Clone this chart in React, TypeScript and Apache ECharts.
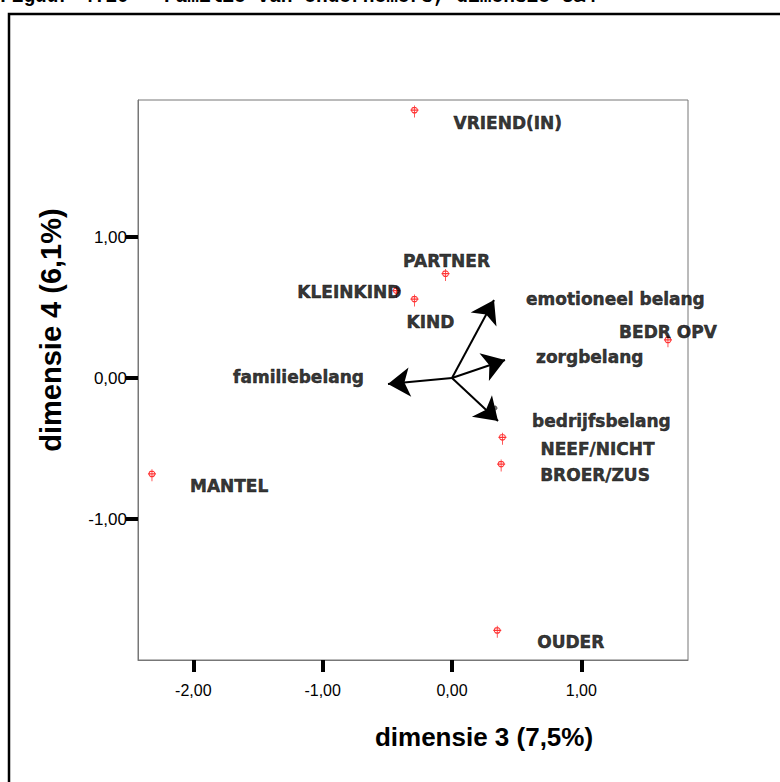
import React, { useEffect, useRef } from 'react';
import * as echarts from 'echarts';

const figureTitle = 'Figuur 4.10 – Familie van ondernemers, dimensie 3&4';
const xAxisTitle = 'dimensie 3 (7,5%)';
const yAxisTitle = 'dimensie 4 (6,1%)';

const xTicks = [-2, -1, 0, 1];
const yTicks = [-1, 0, 1];

const pointNames = ['VRIEND(IN)', 'PARTNER', 'KLEINKIND', 'KIND', 'BEDR OPV', 'NEEF/NICHT', 'BROER/ZUS', 'MANTEL', 'OUDER'];
const pointX = [-0.29, -0.05, -0.43, -0.29, 1.67, 0.39, 0.38, -2.32, 0.35];
const pointY = [1.89, 0.73, 0.61, 0.55, 0.26, -0.43, -0.62, -0.69, -1.8];

const vectorNames = ['emotioneel belang', 'zorgbelang', 'familiebelang', 'bedrijfsbelang'];
const vectorX = [0.325, 0.41, -0.495, 0.356];
const vectorY = [0.553, 0.128, -0.043, -0.305];

const extraMarkX = [0.333];
const extraMarkY = [-0.22];

const labelLayout: Record<string, { align: string; offset: number[] }> = {
  'VRIEND(IN)': { align: 'left', offset: [39, 11] },
  PARTNER: { align: 'center', offset: [1, -14] },
  KLEINKIND: { align: 'right', offset: [5, 0] },
  KIND: { align: 'center', offset: [16, 22] },
  'BEDR OPV': { align: 'center', offset: [0, -9] },
  'NEEF/NICHT': { align: 'left', offset: [38, 10] },
  'BROER/ZUS': { align: 'left', offset: [39, 10] },
  MANTEL: { align: 'left', offset: [38, 11] },
  OUDER: { align: 'left', offset: [40, 10] },
  'emotioneel belang': { align: 'left', offset: [32, -1] },
  zorgbelang: { align: 'left', offset: [31, -3] },
  familiebelang: { align: 'right', offset: [-24, -7] },
  bedrijfsbelang: { align: 'left', offset: [34, 0] },
};

const markerPath =
  'path://M5 0 L5 13 M1 5 L9 5 M2 5 A3 3 0 1 1 8 5 A3 3 0 1 1 2 5 Z';

const labelFont = {
  fontFamily: 'DejaVu Sans',
  fontWeight: 'bold' as const,
  fontSize: 17,
  color: '#000',
  textBorderWidth: 0.5,
  textBorderColor: '#000',
};

const fmt = (v: number) => v.toFixed(2).replace('.', ',');

export default function App() {
  const ref = useRef<HTMLDivElement>(null);
  useEffect(() => {
    const chart = echarts.init(ref.current!, null, { renderer: 'svg' });
    const mkLabel = (n: string) => ({
      show: true,
      position: 'inside',
      formatter: '{b}',
      verticalAlign: 'middle',
      align: labelLayout[n].align,
      offset: labelLayout[n].offset,
      ...labelFont,
    });
    const pointData = pointNames.map((n, i) => ({
      name: n,
      value: [pointX[i], pointY[i]],
      label: mkLabel(n),
    }));
    const vectorLabelData = vectorNames.map((n, i) => ({
      name: n,
      value: [vectorX[i], vectorY[i]],
      label: mkLabel(n),
    }));
    const lineData = vectorNames.map((n, i) => ({
      name: n,
      coords: [
        [0, 0],
        [vectorX[i], vectorY[i]],
      ],
    }));
    chart.setOption({
      animation: false,
      backgroundColor: '#fff',
      grid: {
        left: 138,
        right: 92,
        top: 100,
        bottom: 122,
        show: true,
        borderColor: '#777',
        borderWidth: 1,
        containLabel: false,
      },
      xAxis: {
        type: 'value',
        min: -2.428,
        max: 1.825,
        splitLine: { show: false },
        axisLine: { show: true, onZero: false, lineStyle: { color: '#777', width: 1 } },
        axisTick: {
          show: true,
          customValues: xTicks,
          length: 12,
          lineStyle: { color: '#000', width: 4 },
        },
        axisLabel: {
          customValues: xTicks,
          formatter: fmt,
          margin: 22,
          fontFamily: 'Liberation Sans',
          fontSize: 16,
          color: '#000',
        },
      },
      yAxis: {
        type: 'value',
        min: -2.0,
        max: 1.972,
        splitLine: { show: false },
        axisLine: { show: true, onZero: false, lineStyle: { color: '#777', width: 1 } },
        axisTick: {
          show: true,
          customValues: yTicks,
          length: 12,
          lineStyle: { color: '#000', width: 4 },
        },
        axisLabel: {
          customValues: yTicks,
          formatter: fmt,
          margin: 11,
          fontFamily: 'Liberation Sans',
          fontSize: 17,
          color: '#000',
        },
      },
      graphic: [
        {
          type: 'polyline',
          shape: { points: [[9, 782], [9, 14], [780, 14]] },
          style: { stroke: '#000', lineWidth: 2.5, fill: 'none' },
          silent: true,
        },
        {
          type: 'text',
          x: 0,
          y: 7,
          style: {
            text: figureTitle,
            font: 'bold 19.5px "Liberation Mono"',
            fill: '#000',
            textAlign: 'left',
            textVerticalAlign: 'bottom',
          },
        },
        {
          type: 'text',
          x: 51,
          y: 330,
          rotation: Math.PI / 2,
          style: {
            text: yAxisTitle,
            font: 'bold 29px "Liberation Sans"',
            fill: '#000',
            textAlign: 'center',
            textVerticalAlign: 'middle',
          },
        },
        {
          type: 'text',
          x: 484,
          y: 737,
          style: {
            text: xAxisTitle,
            font: 'bold 26px "Liberation Sans"',
            fill: '#000',
            textAlign: 'center',
            textVerticalAlign: 'middle',
          },
        },
      ],
      series: [
        {
          type: 'lines',
          coordinateSystem: 'cartesian2d',
          symbol: ['none', 'arrow'],
          symbolSize: 22,
          lineStyle: { color: '#000', width: 2, opacity: 1 },
          itemStyle: { color: '#000' },
          data: lineData,
          z: 3,
        },
        {
          type: 'scatter',
          symbol: markerPath,
          symbolSize: [8, 12],
          itemStyle: { color: 'none', borderColor: '#f00', borderWidth: 1 },
          data: pointData,
          z: 4,
        },
        {
          type: 'scatter',
          symbol: markerPath,
          symbolSize: [5, 8],
          itemStyle: { color: 'none', borderColor: '#333', borderWidth: 1 },
          data: extraMarkX.map((x, i) => [x, extraMarkY[i]]),
          z: 2,
        },
        {
          type: 'scatter',
          symbolSize: 1,
          itemStyle: { color: 'rgba(0,0,0,0)' },
          data: vectorLabelData,
          z: 4,
        },
      ],
    });
    return () => chart.dispose();
  }, []);
  return (
    <div
      ref={ref}
      style={{ position: 'fixed', left: 0, top: 0, width: 780, height: 782, background: '#fff' }}
    />
  );
}
